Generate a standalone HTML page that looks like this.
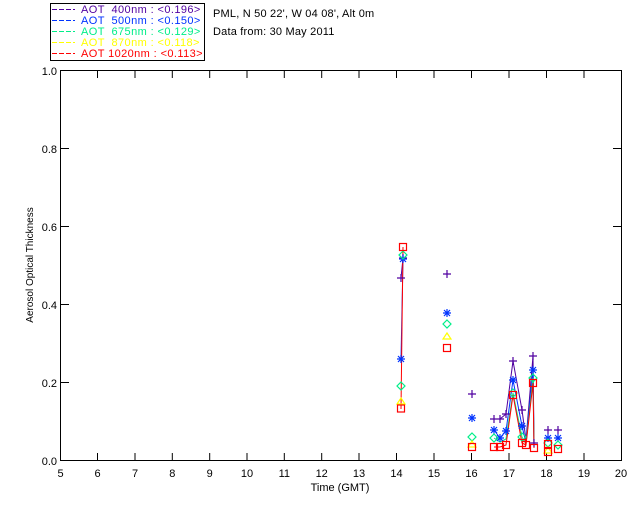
<!DOCTYPE html>
<html><head><meta charset="utf-8"><style>
html,body{margin:0;padding:0;background:#fff;}
svg{display:block;font-family:"Liberation Sans",sans-serif;}
</style></head><body>
<svg width="640" height="512" viewBox="0 0 640 512" xmlns="http://www.w3.org/2000/svg">
<rect width="640" height="512" fill="#fff"/>
<rect x="50.5" y="3.5" width="154" height="57" fill="none" stroke="#000" stroke-width="1"/>
<g font-size="11" stroke-width="1" letter-spacing="0.4">
<line x1="52" y1="9.5" x2="75" y2="9.5" stroke="#5000a0" stroke-dasharray="5,2"/>
<text x="81" y="13" fill="#5000a0" xml:space="preserve">AOT  400nm : &lt;0.196&gt;</text>
<line x1="52" y1="20.5" x2="75" y2="20.5" stroke="#0033ff" stroke-dasharray="5,2"/>
<text x="81" y="24" fill="#0033ff" xml:space="preserve">AOT  500nm : &lt;0.150&gt;</text>
<line x1="52" y1="31.5" x2="75" y2="31.5" stroke="#00ee88" stroke-dasharray="5,2"/>
<text x="81" y="35" fill="#00ee88" xml:space="preserve">AOT  675nm : &lt;0.129&gt;</text>
<line x1="52" y1="42.5" x2="75" y2="42.5" stroke="#ffff00" stroke-dasharray="5,2"/>
<text x="81" y="46" fill="#ffff00" xml:space="preserve">AOT  870nm : &lt;0.118&gt;</text>
<line x1="52" y1="53.5" x2="75" y2="53.5" stroke="#ff0000" stroke-dasharray="5,2"/>
<text x="81" y="57" fill="#ff0000" xml:space="preserve">AOT 1020nm : &lt;0.113&gt;</text>
<text x="213" y="17" fill="#000" letter-spacing="0.2">PML, N 50 22', W 04 08', Alt 0m</text>
<text x="213" y="35" fill="#000" letter-spacing="0.2">Data from: 30 May 2011</text>
</g>
<rect x="60.5" y="70.5" width="561" height="390" fill="none" stroke="#000" stroke-width="1"/>
<g stroke="#000" stroke-width="1">
<line x1="97.5" y1="461" x2="97.5" y2="453"/><line x1="135" y1="461" x2="135" y2="453"/><line x1="172.3" y1="461" x2="172.3" y2="453"/><line x1="209.7" y1="461" x2="209.7" y2="453"/><line x1="247" y1="461" x2="247" y2="453"/><line x1="284.3" y1="461" x2="284.3" y2="453"/><line x1="321.7" y1="461" x2="321.7" y2="453"/><line x1="359" y1="461" x2="359" y2="453"/><line x1="396.5" y1="461" x2="396.5" y2="453"/><line x1="434" y1="461" x2="434" y2="453"/><line x1="471.5" y1="461" x2="471.5" y2="453"/><line x1="509" y1="461" x2="509" y2="453"/><line x1="546.5" y1="461" x2="546.5" y2="453"/><line x1="584" y1="461" x2="584" y2="453"/>
<line x1="97.5" y1="70" x2="97.5" y2="78"/><line x1="135" y1="70" x2="135" y2="78"/><line x1="172.3" y1="70" x2="172.3" y2="78"/><line x1="209.7" y1="70" x2="209.7" y2="78"/><line x1="247" y1="70" x2="247" y2="78"/><line x1="284.3" y1="70" x2="284.3" y2="78"/><line x1="321.7" y1="70" x2="321.7" y2="78"/><line x1="359" y1="70" x2="359" y2="78"/><line x1="396.5" y1="70" x2="396.5" y2="78"/><line x1="434" y1="70" x2="434" y2="78"/><line x1="471.5" y1="70" x2="471.5" y2="78"/><line x1="509" y1="70" x2="509" y2="78"/><line x1="546.5" y1="70" x2="546.5" y2="78"/><line x1="584" y1="70" x2="584" y2="78"/>
<line x1="61" y1="382.5" x2="69" y2="382.5"/><line x1="61" y1="304.5" x2="69" y2="304.5"/><line x1="61" y1="226.5" x2="69" y2="226.5"/><line x1="61" y1="148.5" x2="69" y2="148.5"/>
<line x1="621" y1="382.5" x2="613" y2="382.5"/><line x1="621" y1="304.5" x2="613" y2="304.5"/><line x1="621" y1="226.5" x2="613" y2="226.5"/><line x1="621" y1="148.5" x2="613" y2="148.5"/>
</g>
<g font-size="11" fill="#000" text-anchor="middle">
<text x="60.5" y="477">5</text><text x="97.5" y="477">6</text><text x="135" y="477">7</text><text x="172.3" y="477">8</text><text x="209.7" y="477">9</text><text x="247" y="477">10</text><text x="284.3" y="477">11</text><text x="321.7" y="477">12</text><text x="359" y="477">13</text><text x="396.5" y="477">14</text><text x="434" y="477">15</text><text x="471.5" y="477">16</text><text x="509" y="477">17</text><text x="546.5" y="477">18</text><text x="584" y="477">19</text><text x="621" y="477">20</text>
<text x="340" y="491">Time (GMT)</text>
</g>
<g font-size="11" fill="#000" text-anchor="end">
<text x="57" y="465">0.0</text><text x="57" y="387">0.2</text><text x="57" y="309">0.4</text><text x="57" y="231">0.6</text><text x="57" y="153">0.8</text><text x="57" y="75">1.0</text>
</g>
<text x="33" y="265" font-size="10" fill="#000" text-anchor="middle" transform="rotate(-90 33 265)">Aerosol Optical Thickness</text>
<g fill="none" stroke-width="1">
<polyline stroke="#5000a0" points="401,278 403,258"/>
<polyline stroke="#0033ff" points="401,359 403,259"/>
<polyline stroke="#ff0000" points="401,409 403,247"/>
<polyline stroke="#5000a0" points="494,419 500,419 506,414 513,361 522,410 526,440 533,356 534,443"/>
<polyline stroke="#0033ff" points="494,430 500,438 506,431 513,380 522,426 526,443 533,370 534,446"/>
<polyline stroke="#00ee88" points="494,438 500,442 506,439 513,393 522,437 526,444 533,378 534,447"/>
<polyline stroke="#ff0000" points="494,447 500,447 506,445 513,395 522,443 526,445 533,383 534,448"/>
</g>
<g fill="none" stroke-width="1.2">
<g stroke="#5000a0">
<path d="M397,278h8M401,274v8 M399,258h8M403,254v8 M443,274h8M447,270v8 M468,394h8M472,390v8 M490,419h8M494,415v8 M496,419h8M500,415v8 M502,414h8M506,410v8 M509,361h8M513,357v8 M518,410h8M522,406v8 M529,356h8M533,352v8 M530,443h8M534,439v8 M544,430h8M548,426v8 M554,430h8M558,426v8"/>
</g>
<g stroke="#0033ff">
<path d="M397,359h8M401,355v8M398,356l6,6M404,356l-6,6 M399,259h8M403,255v8M400,256l6,6M406,256l-6,6 M443,313h8M447,309v8M444,310l6,6M450,310l-6,6 M468,418h8M472,414v8M469,415l6,6M475,415l-6,6 M490,430h8M494,426v8M491,427l6,6M497,427l-6,6 M496,438h8M500,434v8M497,435l6,6M503,435l-6,6 M502,431h8M506,427v8M503,428l6,6M509,428l-6,6 M509,380h8M513,376v8M510,377l6,6M516,377l-6,6 M518,426h8M522,422v8M519,423l6,6M525,423l-6,6 M529,370h8M533,366v8M530,367l6,6M536,367l-6,6 M544,438h8M548,434v8M545,435l6,6M551,435l-6,6 M554,438h8M558,434v8M555,435l6,6M561,435l-6,6"/>
</g>
<g stroke="#00ee88">
<path d="M401,382l4,4l-4,4l-4,-4z M403,251l4,4l-4,4l-4,-4z M447,320l4,4l-4,4l-4,-4z M472,433l4,4l-4,4l-4,-4z M494,434l4,4l-4,4l-4,-4z M513,389l4,4l-4,4l-4,-4z M522,433l4,4l-4,4l-4,-4z M533,374l4,4l-4,4l-4,-4z M548,439l4,4l-4,4l-4,-4z M558,441l4,4l-4,4l-4,-4z"/>
</g>
<g stroke="#ffff00">
<path d="M401,398l4,6h-8z M447,333l4,6h-8z M472,441l4,6h-8z M548,447l4,6h-8z"/>
</g>
<g stroke="#ff0000">
<rect x="397.5" y="405" width="7" height="7"/><rect x="399.5" y="243.5" width="7" height="7"/><rect x="443.5" y="344.5" width="7" height="7"/><rect x="468.5" y="443.5" width="7" height="7"/><rect x="490.5" y="443.5" width="7" height="7"/><rect x="496.5" y="443.5" width="7" height="7"/><rect x="502.5" y="441.5" width="7" height="7"/><rect x="509.5" y="391.5" width="7" height="7"/><rect x="518.5" y="439.5" width="7" height="7"/><rect x="522.5" y="441.5" width="7" height="7"/><rect x="529.5" y="379.5" width="7" height="7"/><rect x="530.5" y="444.5" width="7" height="7"/><rect x="544.5" y="440.5" width="7" height="7"/><rect x="544.5" y="448.5" width="7" height="7"/><rect x="554.5" y="445.5" width="7" height="7"/>
</g>
</g>
</svg>
</body></html>
